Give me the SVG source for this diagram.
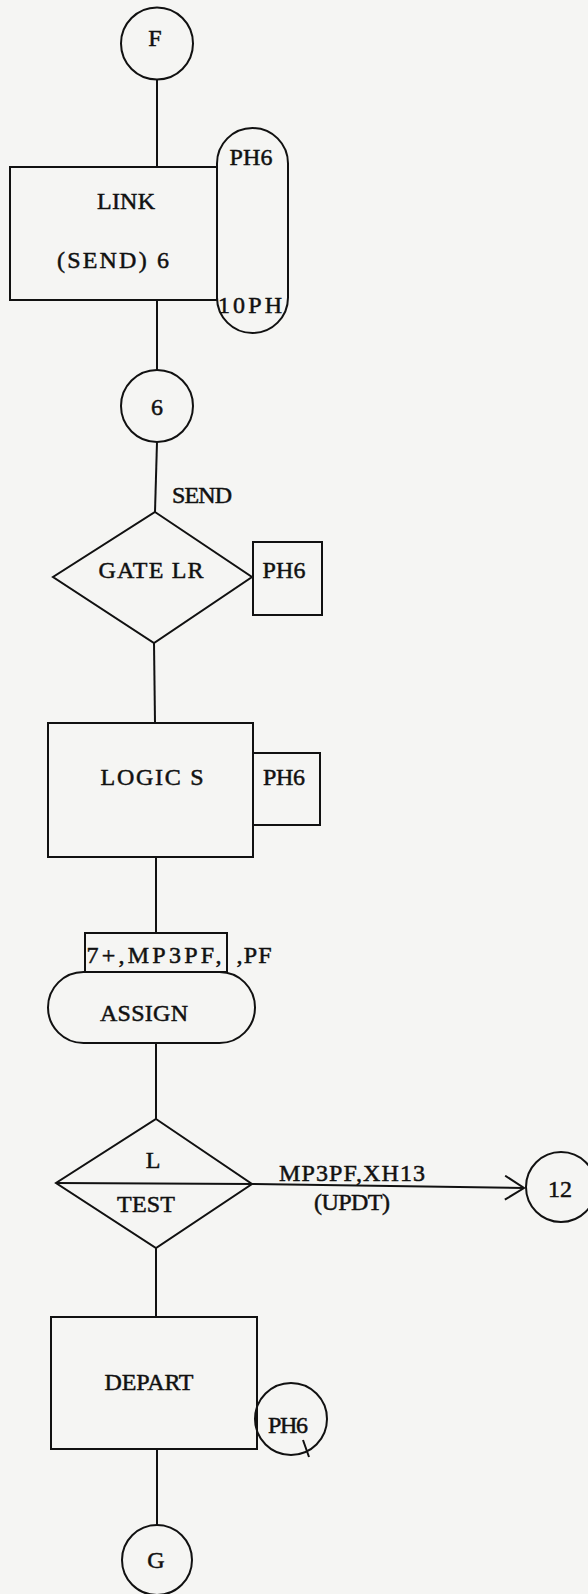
<svg xmlns="http://www.w3.org/2000/svg" width="588" height="1594" viewBox="0 0 588 1594">
<style>
.s{fill:none;stroke:#111;stroke-width:2}
.t{font-family:"Liberation Serif","Times New Roman",serif;font-size:24px;fill:#111;stroke:#111;stroke-width:0.5;text-anchor:middle}
.c{fill:none;stroke:#111;stroke-width:2}
</style>
<defs>
<marker id="arr" viewBox="0 0 22 26" refX="20" refY="13" markerWidth="22" markerHeight="26" markerUnits="userSpaceOnUse" orient="auto">
<path d="M1,1 L20,13 L1,25" fill="none" stroke="#111" stroke-width="2"/>
</marker>
</defs>
<rect x="0" y="0" width="588" height="1594" fill="#f5f5f3"/>
<g id="connectors">
<line class="c" x1="157" y1="79" x2="157" y2="167"/>
<line class="c" x1="157" y1="300" x2="157" y2="370"/>
<line class="c" x1="157" y1="442" x2="155" y2="512"/>
<line class="c" x1="154" y1="643" x2="155" y2="723"/>
<line class="c" x1="156" y1="857" x2="156" y2="933"/>
<line class="c" x1="156" y1="1043" x2="156" y2="1119"/>
<line class="c" x1="252" y1="1184" x2="524" y2="1188" marker-end="url(#arr)"/>
<line class="c" x1="156" y1="1248" x2="156" y2="1317"/>
<line class="c" x1="157" y1="1449" x2="157" y2="1525"/>
<text class="t" x="202" y="503" textLength="60" lengthAdjust="spacing">SEND</text>
<text class="t" x="352" y="1181" textLength="146" lengthAdjust="spacing">MP3PF,XH13</text>
<text class="t" x="352" y="1210" textLength="76" lengthAdjust="spacing">(UPDT)</text>
</g>
<g id="node-F">
<circle class="s" cx="157" cy="43.5" r="36"/>
<text class="t" x="155" y="46">F</text>
</g>
<g id="node-link">
<rect class="s" x="10" y="167" width="207" height="133"/>
<text class="t" x="126" y="209" textLength="58" lengthAdjust="spacing">LINK</text>
<text class="t" x="113" y="268" textLength="112" lengthAdjust="spacing">(SEND) 6</text>
</g>
<g id="node-link-ph">
<rect class="s" x="217" y="128" width="71" height="205" rx="35.5" ry="35.5"/>
<text class="t" x="251" y="165" textLength="43" lengthAdjust="spacing">PH6</text>
<text class="t" x="250" y="313" textLength="64" lengthAdjust="spacing">10PH</text>
</g>
<g id="node-6">
<circle class="s" cx="157" cy="406" r="36"/>
<text class="t" x="157" y="415">6</text>
</g>
<g id="node-gate">
<polygon class="s" points="155,512 252,577 154,643 53,577"/>
<text class="t" x="151" y="578" textLength="105" lengthAdjust="spacing">GATE LR</text>
</g>
<g id="node-gate-ph">
<rect class="s" x="253" y="542" width="69" height="73"/>
<text class="t" x="284" y="578" textLength="43" lengthAdjust="spacing">PH6</text>
</g>
<g id="node-logic">
<rect class="s" x="48" y="723" width="205" height="134"/>
<text class="t" x="152" y="785" textLength="103" lengthAdjust="spacing">LOGIC S</text>
</g>
<g id="node-logic-ph">
<path class="s" d="M253,753 H320 V825 H253"/>
<text class="t" x="284" y="785" textLength="42" lengthAdjust="spacing">PH6</text>
</g>
<g id="node-assign-params">
<rect class="s" x="85" y="933" width="142" height="39"/>
<text class="t" x="154" y="963" textLength="135" lengthAdjust="spacing">7+,MP3PF,</text>
<text class="t" x="254" y="963" textLength="35" lengthAdjust="spacing">,PF</text>
</g>
<g id="node-assign">
<rect class="s" x="48" y="972" width="207" height="71" rx="35.5" ry="35.5"/>
<text class="t" x="144" y="1021" textLength="88" lengthAdjust="spacing">ASSIGN</text>
</g>
<g id="node-test">
<polygon class="s" points="156,1119 252,1184 156,1248 56,1183"/>
<line class="s" x1="56" y1="1183" x2="252" y2="1184"/>
<text class="t" x="153" y="1168">L</text>
<text class="t" x="146" y="1212" textLength="58" lengthAdjust="spacing">TEST</text>
</g>
<g id="node-12">
<circle class="s" cx="561" cy="1187" r="35"/>
<text class="t" x="560" y="1197">12</text>
</g>
<g id="node-depart">
<rect class="s" x="51" y="1317" width="206" height="132"/>
<text class="t" x="149" y="1390" textLength="89" lengthAdjust="spacing">DEPART</text>
</g>
<g id="node-depart-ph">
<circle class="s" cx="291" cy="1419" r="36"/>
<line class="s" x1="303" y1="1440" x2="309" y2="1457"/>
<text class="t" x="288" y="1433" textLength="40" lengthAdjust="spacing">PH6</text>
</g>
<g id="node-G">
<circle class="s" cx="157" cy="1560" r="35"/>
<text class="t" x="156" y="1568">G</text>
</g>
</svg>
